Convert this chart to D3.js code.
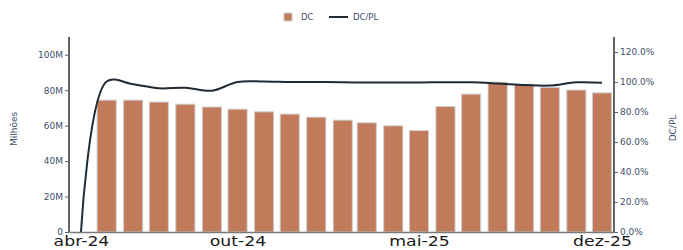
<!DOCTYPE html>
<html>
<head>
<meta charset="utf-8">
<script src="https://cdn.jsdelivr.net/npm/d3@7"></script>
<style>
  body { margin: 0; background: #fff; }
  text { font-family: "DejaVu Sans", sans-serif; }
</style>
</head>
<body>
<script>
// monthly data, abr-24 .. dez-25
var months = ["2024-04","2024-05","2024-06","2024-07","2024-08","2024-09","2024-10","2024-11","2024-12",
  "2025-01","2025-02","2025-03","2025-04","2025-05","2025-06","2025-07","2025-08","2025-09","2025-10","2025-11","2025-12"];
var dcValues = [0, 74.4e6, 74.4e6, 73.3e6, 72.1e6, 70.5e6, 69.3e6, 67.8e6, 66.5e6, 64.8e6, 63.1e6,
  61.6e6, 59.9e6, 57.2e6, 70.8e6, 77.8e6, 84.5e6, 83.3e6, 81.5e6, 80.1e6, 78.5e6];
var dcPlValues = [0, 1.003, 0.985, 0.958, 0.962, 0.942, 1.0, 1.003, 1.0, 1.0, 0.998,
  0.997, 0.996, 0.997, 0.998, 0.998, 0.99, 0.98, 0.976, 0.998, 0.995];
var tickMonths = ["2024-04","2024-10","2025-05","2025-12"];
var tickLabels = ["abr-24","out-24","mai-25","dez-25"];
var leftTicks = [0, 20e6, 40e6, 60e6, 80e6, 100e6];
var rightTicks = [0, 0.2, 0.4, 0.6, 0.8, 1.0, 1.2];

var svgWidth = 683, svgHeight = 250;
var margin = {top: 37, right: 69, bottom: 18, left: 69};
var width = svgWidth - margin.left - margin.right;
var height = svgHeight - margin.top - margin.bottom;

var parseMonth = d3.timeParse("%Y-%m");
var data = months.map(function(m, i) {
  return {date: parseMonth(m), dc: dcValues[i], ratio: dcPlValues[i]};
});

var svg = d3.select("body").append("svg")
  .attr("width", svgWidth)
  .attr("height", svgHeight);

var chartGroup = svg.append("g")
  .attr("transform", `translate(${margin.left}, ${margin.top})`);

var halfPad = 14 * 864e5;
var xTimeScale = d3.scaleTime()
  .domain([new Date(data[0].date - halfPad), new Date(+data[data.length - 1].date + halfPad)])
  .range([0, width]);

var yLeft = d3.scaleLinear().domain([0, 110e6]).range([height, 0]);
var yRight = d3.scaleLinear().domain([0, 1.3]).range([height, 0]);

// bar width: 80% of the smallest month gap
var minGap = d3.min(d3.pairs(data), p => xTimeScale(p[1].date) - xTimeScale(p[0].date));
var barW = minGap * 0.8;

chartGroup.selectAll(".bar")
  .data(data)
  .enter().append("rect")
  .attr("class", "bar")
  .attr("x", d => xTimeScale(d.date) - barW / 2)
  .attr("y", d => yLeft(d.dc))
  .attr("width", barW)
  .attr("height", d => height - yLeft(d.dc))
  .attr("fill", "#c27b5a")
  .attr("stroke", d => d.dc > 0 ? "#cfcfcf" : "none")
  .attr("stroke-width", 1);

var line = d3.line()
  .x(d => xTimeScale(d.date))
  .y(d => yRight(d.ratio))
  .curve(d3.curveCatmullRom.alpha(0.5));

chartGroup.append("path")
  .datum(data)
  .attr("d", line)
  .attr("fill", "none")
  .attr("stroke", "#1f2a35")
  .attr("stroke-width", 2);

// left axis
var leftAxis = d3.axisLeft(yLeft).tickValues(leftTicks)
  .tickFormat(d => d === 0 ? "0" : d3.format("~s")(d))
  .tickSize(4).tickPadding(2);
var gl = chartGroup.append("g").call(leftAxis);
gl.select(".domain").attr("stroke", "#111").attr("stroke-width", 1.3).attr("d", `M0,0V${height}`);
gl.selectAll(".tick line").attr("stroke", "#506784");
gl.selectAll("text").attr("fill", "#3d4f6b").style("font-size", "9px");

// right axis
var rightAxis = d3.axisRight(yRight).tickValues(rightTicks)
  .tickFormat(d3.format(".1%"))
  .tickSize(4).tickPadding(2);
var gr = chartGroup.append("g").attr("transform", `translate(${width},0)`).call(rightAxis);
gr.select(".domain").attr("stroke", "#111").attr("stroke-width", 1.3).attr("d", `M0,0V${height}`);
gr.selectAll(".tick line").attr("stroke", "#506784");
gr.selectAll("text").attr("fill", "#3d4f6b").style("font-size", "9px");

// bottom axis
var bottomAxis = d3.axisBottom(xTimeScale)
  .tickValues(tickMonths.map(parseMonth))
  .tickFormat((d, i) => tickLabels[i])
  .tickSize(0).tickPadding(4);
var gb = chartGroup.append("g").attr("transform", `translate(0, ${height})`).call(bottomAxis);
gb.select(".domain").attr("stroke", "#7a7a7a").attr("stroke-width", 1.3);
gb.selectAll("text").attr("fill", "#1a1a1a").style("font-size", "13.5px")
  .attr("transform", "scale(1.28,1)");

// axis titles
svg.append("text")
  .attr("transform", `translate(17, ${margin.top + 92}) rotate(-90)`)
  .attr("text-anchor", "middle")
  .attr("fill", "#3d4f6b")
  .style("font-size", "9px")
  .text("Milhões");

svg.append("text")
  .attr("transform", `translate(676, ${margin.top + 91}) rotate(-90)`)
  .attr("text-anchor", "middle")
  .attr("fill", "#3d4f6b")
  .style("font-size", "9px")
  .text("DC/PL");

// legend
var legend = svg.append("g").attr("transform", "translate(284, 17)");
legend.append("rect").attr("x", 0).attr("y", -4).attr("width", 8).attr("height", 8)
  .attr("fill", "#c27b5a").attr("stroke", "#cfcfcf");
legend.append("text").attr("x", 17).attr("y", 3).attr("fill", "#3d4f6b")
  .style("font-size", "8.5px").text("DC");
legend.append("line").attr("x1", 45).attr("x2", 64).attr("y1", 0).attr("y2", 0)
  .attr("stroke", "#1f2a35").attr("stroke-width", 2);
legend.append("text").attr("x", 69).attr("y", 3).attr("fill", "#3d4f6b")
  .style("font-size", "8.5px").text("DC/PL");
</script>
</body>
</html>
